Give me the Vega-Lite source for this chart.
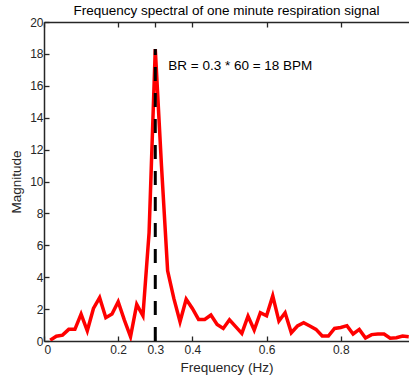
{
  "$schema": "https://vega.github.io/schema/vega-lite/v6.json",
  "width": 365,
  "height": 319,
  "autosize": {"type": "none"},
  "padding": {"left": 44, "top": 22, "right": 0, "bottom": 38},
  "background": "white",
  "config": {
    "view": {"stroke": null},
    "font": "Liberation Sans",
    "axis": {
      "grid": false,
      "domainColor": "#262626",
      "domainWidth": 1.5,
      "tickColor": "#262626",
      "tickWidth": 1.3,
      "tickSize": -5,
      "labelColor": "#262626",
      "labelFont": "Liberation Sans",
      "labelFontSize": 12,
      "titleFont": "Liberation Sans",
      "titleFontSize": 13.5,
      "titleFontWeight": "normal",
      "titleColor": "#262626"
    },
    "title": {"font": "Liberation Sans", "fontSize": 13.5, "fontWeight": "normal", "color": "black", "offset": 0, "dy": 5}
  },
  "title": "Frequency spectral of one minute respiration signal",
  "datasets": {
    "spectrum": [
      {"f": 0.0167, "m": 0.05}, {"f": 0.0333, "m": 0.3}, {"f": 0.05, "m": 0.37}, {"f": 0.0667, "m": 0.73},
      {"f": 0.0833, "m": 0.73}, {"f": 0.1, "m": 1.69}, {"f": 0.1167, "m": 0.64}, {"f": 0.1333, "m": 2.04},
      {"f": 0.15, "m": 2.72}, {"f": 0.1667, "m": 1.46}, {"f": 0.1833, "m": 1.69}, {"f": 0.2, "m": 2.46},
      {"f": 0.2167, "m": 1.31}, {"f": 0.2333, "m": 0.27}, {"f": 0.25, "m": 2.29}, {"f": 0.2667, "m": 1.58},
      {"f": 0.2833, "m": 6.8}, {"f": 0.3, "m": 18.3}, {"f": 0.3167, "m": 11.0}, {"f": 0.3333, "m": 4.4},
      {"f": 0.35, "m": 2.67}, {"f": 0.3667, "m": 1.21}, {"f": 0.3833, "m": 2.62}, {"f": 0.4, "m": 2.04},
      {"f": 0.4167, "m": 1.35}, {"f": 0.4333, "m": 1.35}, {"f": 0.45, "m": 1.63}, {"f": 0.4667, "m": 1.04},
      {"f": 0.4833, "m": 0.79}, {"f": 0.5, "m": 1.33}, {"f": 0.5167, "m": 0.9}, {"f": 0.5333, "m": 0.48},
      {"f": 0.55, "m": 1.56}, {"f": 0.5667, "m": 0.69}, {"f": 0.5833, "m": 1.77}, {"f": 0.6, "m": 1.58},
      {"f": 0.6167, "m": 2.83}, {"f": 0.6333, "m": 1.25}, {"f": 0.65, "m": 1.77}, {"f": 0.6667, "m": 0.52},
      {"f": 0.6833, "m": 0.94}, {"f": 0.7, "m": 1.15}, {"f": 0.7167, "m": 0.94}, {"f": 0.7333, "m": 0.73},
      {"f": 0.75, "m": 0.31}, {"f": 0.7667, "m": 0.31}, {"f": 0.7833, "m": 0.79}, {"f": 0.8, "m": 0.85},
      {"f": 0.8167, "m": 0.96}, {"f": 0.8333, "m": 0.44}, {"f": 0.85, "m": 0.73}, {"f": 0.8667, "m": 0.19},
      {"f": 0.8833, "m": 0.4}, {"f": 0.9, "m": 0.44}, {"f": 0.9167, "m": 0.44}, {"f": 0.9333, "m": 0.17},
      {"f": 0.95, "m": 0.21}, {"f": 0.9667, "m": 0.31}, {"f": 0.9833, "m": 0.27}
    ],
    "marker": [{"f": 0.3, "bottom": 0, "top": 18.3}],
    "note": [{"f": 0.335, "m": 17.25, "label": "BR = 0.3 * 60 = 18 BPM"}]
  },
  "layer": [
    {
      "data": {"name": "spectrum"},
      "mark": {"type": "line", "color": "#ff0000", "strokeWidth": 3.5, "clip": true},
      "encoding": {
        "x": {
          "field": "f", "type": "quantitative",
          "scale": {"domain": [0, 0.984], "nice": false, "zero": false},
          "axis": {"orient": "bottom", "values": [0, 0.2, 0.3, 0.4, 0.6, 0.8], "format": "~g", "title": "Frequency (Hz)", "labelPadding": 8, "titlePadding": 5}
        },
        "y": {
          "field": "m", "type": "quantitative",
          "scale": {"domain": [0, 20], "nice": false},
          "axis": {"values": [0, 2, 4, 6, 8, 10, 12, 14, 16, 18, 20], "labelOverlap": false, "title": "Magnitude", "labelPadding": 6, "titlePadding": 6}
        }
      }
    },
    {
      "data": {"name": "marker"},
      "mark": {"type": "rule", "color": "black", "strokeWidth": 3, "strokeDash": [14, 12]},
      "encoding": {
        "x": {
          "field": "f", "type": "quantitative",
          "axis": {"orient": "top", "values": [0, 0.2, 0.3, 0.4, 0.6, 0.8], "labels": false, "title": null}
        },
        "y": {"field": "bottom", "type": "quantitative", "axis": null},
        "y2": {"field": "top"}
      }
    },
    {
      "data": {"name": "note"},
      "mark": {"type": "text", "align": "left", "baseline": "middle", "fontSize": 13.5, "font": "Liberation Sans", "color": "black"},
      "encoding": {
        "x": {"field": "f", "type": "quantitative", "axis": null},
        "y": {"field": "m", "type": "quantitative", "axis": null},
        "text": {"field": "label"}
      }
    }
  ],
  "resolve": {"axis": {"x": "independent", "y": "independent"}}
}
